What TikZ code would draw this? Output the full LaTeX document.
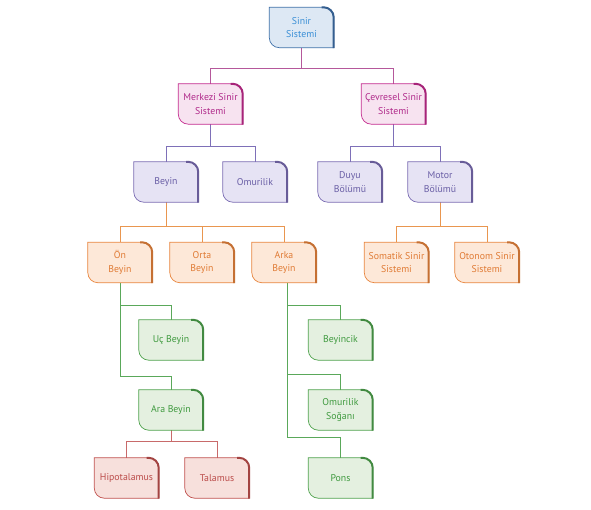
\documentclass[tikz,border=0pt]{standalone}
\usepackage{fontspec}
\setmainfont{PT Sans}
\usetikzlibrary{calc}
\definecolor{bB}{HTML}{3D6FA8}\definecolor{bF}{HTML}{DDE8F4}\definecolor{bT}{HTML}{3A8FD6}
\definecolor{mB}{HTML}{C42A8E}\definecolor{mF}{HTML}{F7E3F0}\definecolor{mT}{HTML}{B02A8A}\definecolor{mL}{HTML}{B5589B}
\definecolor{pB}{HTML}{7A6CB3}\definecolor{pF}{HTML}{E6E3F4}\definecolor{pT}{HTML}{6A5FA6}\definecolor{pL}{HTML}{7E70B8}
\definecolor{oB}{HTML}{E8843C}\definecolor{oF}{HTML}{FDE8D8}\definecolor{oT}{HTML}{E07B35}\definecolor{oL}{HTML}{E9964F}
\definecolor{gB}{HTML}{4EA24C}\definecolor{gF}{HTML}{E4F0E0}\definecolor{gT}{HTML}{3F9A3F}\definecolor{gL}{HTML}{5AA85A}
\definecolor{rB}{HTML}{C0504D}\definecolor{rF}{HTML}{F7E0DC}\definecolor{rT}{HTML}{BB4C4A}\definecolor{rL}{HTML}{C86A6A}
\tikzset{
  boxnode/.style={minimum width=64pt, minimum height=40pt, inner sep=0pt, align=center,
    font=\fontsize{9.8}{13.5}\selectfont},
  conn/.style={line width=0.8pt},
}
\newcommand{\boxshape}[2]{%
  \path[fill=#2F] (#1.north west) -- ($(#1.north east)+(-10pt,0pt)$)
    .. controls ($(#1.north east)+(-4.5pt,0pt)$) and ($(#1.north east)+(0pt,-4.5pt)$) .. ($(#1.north east)+(0pt,-10pt)$)
    -- (#1.south east) -- ($(#1.south west)+(10pt,0pt)$)
    .. controls ($(#1.south west)+(4.5pt,0pt)$) and ($(#1.south west)+(0pt,4.5pt)$) .. ($(#1.south west)+(0pt,10pt)$)
    -- cycle;
  \draw[#2B, line width=0.7pt] (#1.north west) -- ($(#1.north east)+(-10pt,0pt)$)
    .. controls ($(#1.north east)+(-4.5pt,0pt)$) and ($(#1.north east)+(0pt,-4.5pt)$) .. ($(#1.north east)+(0pt,-10pt)$)
    -- (#1.south east) -- ($(#1.south west)+(10pt,0pt)$)
    .. controls ($(#1.south west)+(4.5pt,0pt)$) and ($(#1.south west)+(0pt,4.5pt)$) .. ($(#1.south west)+(0pt,10pt)$)
    -- cycle;
  \draw[#2B!85!black, line width=2pt] ($(#1.north east)+(-12pt,0pt)$) -- ($(#1.north east)+(-10pt,0pt)$)
    .. controls ($(#1.north east)+(-4.5pt,0pt)$) and ($(#1.north east)+(0pt,-4.5pt)$) .. ($(#1.north east)+(0pt,-10pt)$)
    -- ($(#1.south east)+(0pt,-0.3pt)$);
}
\begin{document}
\begin{tikzpicture}[x=1pt,y=-1pt]
\useasboundingbox[fill=white] (0,0) rectangle (591,509);
% nodes
\node[boxnode] (sinir) at (301.5,27.5) {Sinir\\Sistemi};
\node[boxnode] (merkezi) at (210.5,104) {Merkezi Sinir\\Sistemi};
\node[boxnode] (cevresel) at (393.5,104) {Çevresel Sinir\\Sistemi};
\node[boxnode] (beyin) at (166,182) {Beyin};
\node[boxnode] (omurilik) at (255,182) {Omurilik};
\node[boxnode] (duyu) at (350,182) {Duyu\\Bölümü};
\node[boxnode] (motor) at (440,182) {Motor\\Bölümü};
\node[boxnode] (on) at (120,262.5) {Ön\\Beyin};
\node[boxnode] (orta) at (202,262.5) {Orta\\Beyin};
\node[boxnode] (arka) at (284,262.5) {Arka\\Beyin};
\node[boxnode] (somatik) at (396.5,262.5) {Somatik Sinir\\Sistemi};
\node[boxnode] (otonom) at (487,262.5) {Otonom Sinir\\Sistemi};
\node[boxnode] (uc) at (171,340) {Uç Beyin};
\node[boxnode] (ara) at (171,410) {Ara Beyin};
\node[boxnode] (hipo) at (126.5,478) {Hipotalamus};
\node[boxnode] (talamus) at (217,478) {Talamus};
\node[boxnode] (beyincik) at (340.5,340) {Beyincik};
\node[boxnode] (soganı) at (340.5,410) {Omurilik\\Soğanı};
\node[boxnode] (pons) at (340.5,478) {Pons};
% connectors
\coordinate (y68) at (0,68);
\coordinate (y146) at (0,146);
\coordinate (y226) at (0,226);
\coordinate (y305) at (0,305);
\coordinate (y376) at (0,376);
\coordinate (y374) at (0,374);
\coordinate (y437) at (0,437);
\coordinate (y441) at (0,441);
\coordinate (xa) at (287,0);
\draw[conn, mL] (sinir.south) -- (sinir.south |- y68) -| (merkezi.north);
\draw[conn, mL] (sinir.south |- y68) -| (cevresel.north);
\draw[conn, pL] (merkezi.south) -- (merkezi.south |- y146) -| (beyin.north);
\draw[conn, pL] (merkezi.south |- y146) -| (omurilik.north);
\draw[conn, pL] (cevresel.south) -- (cevresel.south |- y146) -| (duyu.north);
\draw[conn, pL] (cevresel.south |- y146) -| (motor.north);
\draw[conn, oL] (beyin.south) -- (beyin.south |- y226) -| (on.north);
\draw[conn, oL] (beyin.south |- y226) -| (orta.north);
\draw[conn, oL] (beyin.south |- y226) -| (arka.north);
\draw[conn, oL] (motor.south) -- (motor.south |- y226) -| (somatik.north);
\draw[conn, oL] (motor.south |- y226) -| (otonom.north);
\draw[conn, gL] (on.south) -- (on.south |- y376) -| (ara.north);
\draw[conn, gL] (on.south |- y305) -| (uc.north);
\draw[conn, gL] (arka.south -| xa) -- (xa |- y437) -| (pons.north);
\draw[conn, gL] (xa |- y305) -| (beyincik.north);
\draw[conn, gL] (xa |- y374) -| (soganı.north);
\draw[conn, rL] (ara.south) -- (ara.south |- y441) -| (hipo.north);
\draw[conn, rL] (ara.south |- y441) -| (talamus.north);
% box shapes
\boxshape{sinir}{b}
\boxshape{merkezi}{m}\boxshape{cevresel}{m}
\boxshape{beyin}{p}\boxshape{omurilik}{p}\boxshape{duyu}{p}\boxshape{motor}{p}
\boxshape{on}{o}\boxshape{orta}{o}\boxshape{arka}{o}\boxshape{somatik}{o}\boxshape{otonom}{o}
\boxshape{uc}{g}\boxshape{ara}{g}\boxshape{beyincik}{g}\boxshape{soganı}{g}\boxshape{pons}{g}
\boxshape{hipo}{r}\boxshape{talamus}{r}
% texts on top
\node[boxnode, text=bT] at (sinir) {Sinir\\Sistemi};
\node[boxnode, text=mT] at (merkezi) {Merkezi Sinir\\Sistemi};
\node[boxnode, text=mT] at (cevresel) {Çevresel Sinir\\Sistemi};
\node[boxnode, text=pT] at (beyin) {Beyin};
\node[boxnode, text=pT] at (omurilik) {Omurilik};
\node[boxnode, text=pT] at (duyu) {Duyu\\Bölümü};
\node[boxnode, text=pT] at (motor) {Motor\\Bölümü};
\node[boxnode, text=oT] at (on) {Ön\\Beyin};
\node[boxnode, text=oT] at (orta) {Orta\\Beyin};
\node[boxnode, text=oT] at (arka) {Arka\\Beyin};
\node[boxnode, text=oT] at (somatik) {Somatik Sinir\\Sistemi};
\node[boxnode, text=oT] at (otonom) {Otonom Sinir\\Sistemi};
\node[boxnode, text=gT] at (uc) {Uç Beyin};
\node[boxnode, text=gT] at (ara) {Ara Beyin};
\node[boxnode, text=gT] at (beyincik) {Beyincik};
\node[boxnode, text=gT] at (soganı) {Omurilik\\Soğanı};
\node[boxnode, text=gT] at (pons) {Pons};
\node[boxnode, text=rT] at (hipo) {Hipotalamus};
\node[boxnode, text=rT] at (talamus) {Talamus};
\end{tikzpicture}
\end{document}
